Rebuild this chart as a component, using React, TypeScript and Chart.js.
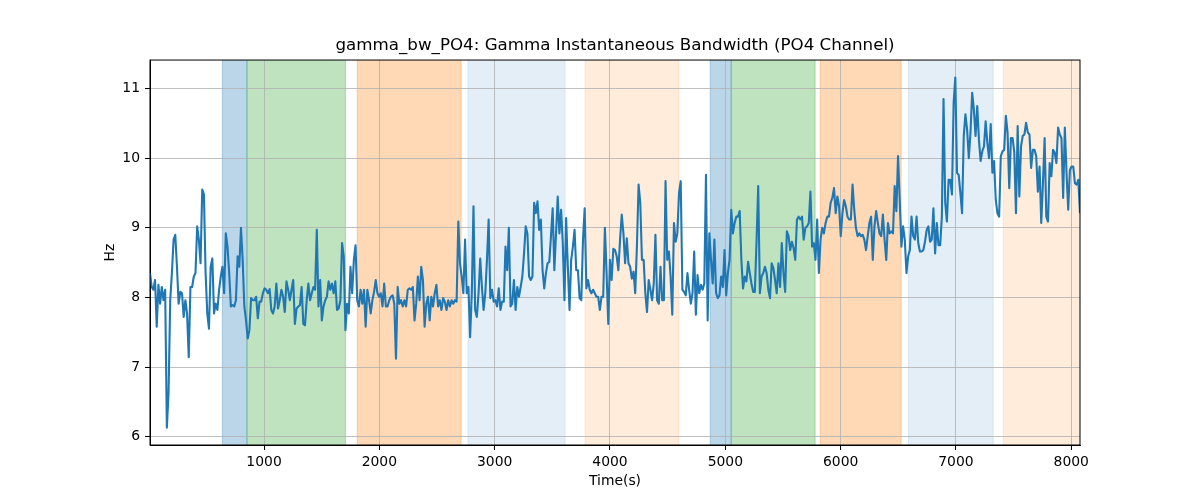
import { useEffect, useRef } from "react";
import { Chart, registerables } from "chart.js";

Chart.register(...registerables);

// sampling grid of the recording (seconds)
const T0 = 11;
const DT = 14.61;

// gamma instantaneous bandwidth, PO4 channel (Hz), one value per sample
const GAMMA_BW = [
  8.35, 8.15, 8.11, 8.25, 7.58, 8.18, 7.91, 8.15, 7.96, 8.11,
  6.13, 6.62, 7.96, 8.35, 8.83, 8.9, 8.44, 7.91, 8.08, 8.06,
  7.72, 7.96, 7.77, 7.14, 8.15, 8.15, 8.3, 8.35, 9.02, 8.83,
  8.49, 9.55, 9.48, 8.35, 7.77, 7.55, 8.44, 8.56, 7.77, 7.91,
  7.82, 8.11, 8.3, 8.44, 8.06, 8.92, 8.73, 8.35, 7.87, 7.89,
  7.87, 7.96, 8.59, 8.44, 9.0, 8.54, 7.87, 7.67, 7.41, 7.53,
  7.99, 7.96, 7.96, 8.01, 7.7, 7.94, 7.94, 8.06, 8.13, 8.11,
  8.06, 8.12, 7.82, 7.77, 7.87, 8.2, 7.84, 7.96, 8.11, 8.01,
  7.79, 8.23, 8.11, 7.96, 8.11, 8.25, 7.62, 7.84, 7.87, 7.89,
  8.15,
  7.62, 7.6, 7.96, 8.2, 7.96, 8.06, 8.15, 8.11, 8.97, 7.87,
  8.25, 7.67, 7.87, 7.96, 8.01, 8.23, 8.11, 8.2, 8.06, 8.23,
  7.82, 7.84, 7.96, 8.78, 8.59, 7.53, 7.91, 7.77, 8.44, 8.06,
  8.54, 8.75, 7.96, 7.87, 8.11, 7.91, 8.11, 7.58, 8.11, 7.96,
  7.77, 7.96, 8.08, 8.25, 8.06, 8.01, 8.06, 7.87, 8.2, 7.87,
  7.87, 7.96, 8.01, 8.03, 7.91, 7.12, 8.15, 7.91, 7.96, 7.87,
  7.96, 7.87, 8.11, 8.13, 8.11, 8.15, 7.67, 7.91, 8.3, 7.96,
  8.44, 8.25, 7.58, 7.91, 8.01, 7.67, 8.01, 7.87, 8.06, 8.18,
  7.87, 7.96, 7.82, 7.99, 7.94, 7.82, 7.96, 7.87, 7.96, 7.91,
  7.96, 7.94,
  9.09, 8.49, 8.3, 8.06, 8.83, 8.06, 8.15, 7.43, 8.06, 9.31,
  7.82, 7.72, 8.06, 8.56, 8.15, 7.82, 8.06, 8.54, 9.12, 7.99,
  8.11, 7.94, 7.96, 7.87, 8.13, 7.82, 7.94, 7.94, 8.73, 8.39,
  9.0, 7.87, 7.91, 8.25, 7.82, 8.15, 8.01, 8.15, 8.3, 8.63,
  9.02, 8.92, 8.3, 8.25, 8.3, 9.36, 9.21, 9.38, 8.97, 9.12,
  8.39, 8.13, 8.35, 8.49, 8.51, 8.88, 9.28, 8.39, 8.92, 9.45,
  8.92, 9.26, 8.78, 7.96, 9.14, 8.44, 7.82, 8.54, 8.73, 8.97,
  8.39, 8.39, 7.99, 7.96, 8.83, 9.28, 8.13, 8.25, 8.11, 8.06,
  8.11, 8.06, 8.01, 8.01, 7.82, 8.01, 8.01, 9.0, 8.35, 7.62,
  8.54, 8.25,
  8.7, 8.68, 8.59, 8.39, 8.83, 9.19, 8.92, 8.49, 8.85, 8.49,
  8.44, 8.27, 8.37, 8.06, 8.73, 9.62, 9.36, 8.54, 8.54, 8.06,
  7.79, 8.25, 8.11, 7.96, 8.2, 8.9, 7.96, 7.91, 8.44, 7.96,
  7.96, 9.67, 8.54, 8.66, 8.3, 7.75, 9.07, 8.8, 8.92, 9.5,
  9.67, 8.11, 8.08, 8.03, 8.35, 8.11, 7.91, 8.06, 8.66, 7.75,
  8.32, 8.06, 8.18, 8.11, 8.2, 9.76, 7.67, 8.92, 8.54, 8.2,
  8.83, 8.06, 7.99, 8.03, 8.3, 8.15, 8.68, 8.03, 8.35, 8.54,
  9.26, 8.92, 9.07, 9.16, 9.16, 9.24, 8.54, 8.13, 8.3, 8.23,
  8.51, 8.35, 8.2, 8.08, 8.08, 8.8, 9.6, 8.06, 8.3, 8.35,
  8.44,
  8.35, 8.11, 7.99, 8.49, 8.42, 8.25, 8.06, 8.49, 8.15, 8.78,
  8.35, 8.08, 8.95, 8.88, 8.68, 8.8, 8.71, 8.54, 9.12, 9.16,
  9.12, 9.16, 8.83, 9.0, 9.02, 9.07, 9.52, 8.73, 8.78, 8.54,
  9.12, 8.35, 8.83, 9.0, 8.92, 9.07, 9.16, 9.16, 9.36, 9.43,
  9.57, 9.21, 9.45, 9.31, 8.88, 9.21, 9.4, 9.31, 9.16, 9.12,
  9.12, 9.62, 9.26, 9.0, 8.88, 8.92, 8.88, 8.9, 8.83, 8.68,
  8.88, 9.07, 9.16, 8.54, 9.02, 9.24, 9.07, 8.92, 8.88, 9.19,
  8.83, 8.54, 9.07, 8.92, 8.95, 8.92, 9.6, 9.24, 10.03, 9.4,
  8.73, 9.02, 8.83, 8.35, 8.59, 8.68, 9.16, 8.88, 8.83, 9.16,
  8.78, 8.66, 8.66,
  8.68, 8.8, 8.97, 9.02, 8.8, 8.83, 9.28, 8.63, 9.07, 8.75,
  8.75, 9.16, 10.85, 9.36, 9.09, 9.69, 9.69, 9.48, 10.8, 11.16,
  9.79, 9.76, 9.5, 9.21, 10.32, 10.63, 10.41, 10.0, 10.37, 10.94,
  10.7, 10.32, 10.75, 10.27, 9.96, 10.1, 10.17, 10.53, 10.22, 10.0,
  10.49, 9.79, 9.96, 9.4, 9.21, 9.16, 10.03, 10.1, 10.12, 10.61,
  10.37, 9.57, 10.29, 10.29, 10.08, 9.21, 10.46, 9.45, 10.17, 10.32,
  10.34, 10.51, 10.37, 10.34, 9.86, 10.12, 10.12, 10.03, 9.52, 9.88,
  9.07, 9.64, 10.29, 9.16, 9.09, 9.93, 9.74, 10.12, 10.08, 9.93,
  10.44, 10.34, 10.29, 9.43, 10.44, 9.79, 9.26, 9.83, 9.88, 9.88,
  9.64, 9.62, 9.69, 9.21,
];

// shaded task blocks (seconds) and which colour each uses
const SPAN_STARTS = [638, 852, 1808, 2768, 3784, 4869, 5051, 5823, 6588, 7410];
const SPAN_ENDS = [852, 1706, 2709, 3611, 4598, 5051, 5779, 6525, 7323, 8078];
const SPAN_KINDS = [0, 1, 2, 3, 4, 0, 1, 2, 3, 4];

const X_TICKS = [1000, 2000, 3000, 4000, 5000, 6000, 7000, 8000];
const Y_TICKS = [6, 7, 8, 9, 10, 11];
const Y_MIN = 5.88;
const Y_MAX = 11.41;

const SPAN_FILLS = [
  "rgba(31, 119, 180, 0.3)",
  "rgba(44, 160, 44, 0.3)",
  "rgba(255, 127, 14, 0.3)",
  "rgba(31, 119, 180, 0.12)",
  "rgba(255, 127, 14, 0.15)",
];

const FONT = "DejaVu Sans";

const spanPlugin = {
  id: "taskSpans",
  beforeDraw(chart: any) {
    const { ctx, chartArea, scales } = chart;
    const x = scales.x;
    ctx.save();
    ctx.beginPath();
    ctx.rect(chartArea.left, chartArea.top, chartArea.width, chartArea.height);
    ctx.clip();
    SPAN_STARTS.forEach((start, i) => {
      const x0 = x.getPixelForValue(start);
      const x1 = x.getPixelForValue(SPAN_ENDS[i]);
      const color = SPAN_FILLS[SPAN_KINDS[i]];
      ctx.fillStyle = color;
      ctx.fillRect(x0, chartArea.top, x1 - x0, chartArea.height);
      // axvspan draws an edge in the same colour
      ctx.strokeStyle = color;
      ctx.lineWidth = 1;
      ctx.beginPath();
      ctx.moveTo(x0, chartArea.top);
      ctx.lineTo(x0, chartArea.bottom);
      ctx.moveTo(x1, chartArea.top);
      ctx.lineTo(x1, chartArea.bottom);
      ctx.stroke();
    });
    ctx.restore();
  },
  afterDraw(chart: any) {
    const { ctx, chartArea } = chart;
    ctx.save();
    ctx.strokeStyle = "#000";
    ctx.lineWidth = 1;
    ctx.strokeRect(
      chartArea.left,
      chartArea.top,
      chartArea.right - chartArea.left,
      chartArea.bottom - chartArea.top
    );
    ctx.restore();
  },
};

export default function App() {
  const chartRef = useRef<HTMLCanvasElement>(null);
  const chartInstance = useRef<Chart | null>(null);

  useEffect(() => {
    document.body.style.margin = "0";
    if (!chartRef.current) return;
    if (chartInstance.current) chartInstance.current.destroy();

    const ctx = chartRef.current.getContext("2d");
    if (!ctx) return;

    const points = GAMMA_BW.map((v, i) => ({ x: T0 + i * DT, y: v }));

    chartInstance.current = new Chart(ctx, {
      type: "line",
      data: {
        datasets: [
          {
            label: "gamma_bw_PO4",
            data: points,
            borderColor: "#1f77b4",
            borderWidth: 2.1,
            borderJoinStyle: "round",
            pointRadius: 0,
            tension: 0,
            fill: false,
          },
        ],
      },
      options: {
        responsive: false,
        animation: false,
        layout: { padding: { left: 0, right: 120, top: 0, bottom: 0 } },
        plugins: {
          legend: { display: false },
          tooltip: { enabled: false },
          title: {
            display: true,
            text: "gamma_bw_PO4: Gamma Instantaneous Bandwidth (PO4 Channel)",
            color: "#000",
            fullSize: false,
            font: { family: FONT, size: 16.7, weight: "normal" },
            padding: { top: 36, bottom: 4 },
          },
        },
        scales: {
          x: {
            type: "linear",
            min: T0,
            max: T0 + DT * (GAMMA_BW.length - 1),
            afterBuildTicks: (scale: any) => {
              scale.ticks = X_TICKS.map((value) => ({ value }));
            },
            afterFit: (scale: any) => {
              scale.height = 55;
              scale.paddingLeft = 0;
              scale.paddingRight = 0;
            },
            grid: {
              color: "#b0b0b0",
              lineWidth: 0.8,
              tickColor: "#000",
              tickWidth: 1,
              tickLength: 5,
            },
            border: { display: true, color: "#000", width: 1 },
            ticks: {
              color: "#000",
              padding: 4,
              maxRotation: 0,
              font: { family: FONT, size: 13.9 },
              callback: (v: any) => String(v),
            },
            title: {
              display: true,
              text: "Time(s)",
              color: "#000",
              font: { family: FONT, size: 13.9 },
              padding: { top: 0, bottom: 10.5 },
            },
          },
          y: {
            type: "linear",
            min: Y_MIN,
            max: Y_MAX,
            afterBuildTicks: (scale: any) => {
              scale.ticks = Y_TICKS.map((value) => ({ value }));
            },
            afterFit: (scale: any) => {
              scale.width = 150;
              scale.paddingTop = 0;
              scale.paddingBottom = 0;
            },
            grid: {
              color: "#b0b0b0",
              lineWidth: 0.8,
              tickColor: "#000",
              tickWidth: 1,
              tickLength: 5,
            },
            border: { display: true, color: "#000", width: 1 },
            ticks: {
              color: "#000",
              padding: 5,
              font: { family: FONT, size: 13.9 },
              callback: (v: any) => String(v),
            },
            title: {
              display: true,
              text: "Hz",
              color: "#000",
              font: { family: FONT, size: 13.9 },
              padding: { top: 102, bottom: 0 },
            },
          },
        },
      },
      plugins: [spanPlugin],
    });

    return () => {
      if (chartInstance.current) {
        chartInstance.current.destroy();
        chartInstance.current = null;
      }
    };
  }, []);

  return (
    <div style={{ width: 1200, height: 500 }}>
      <canvas ref={chartRef} width={1200} height={500}></canvas>
    </div>
  );
}
